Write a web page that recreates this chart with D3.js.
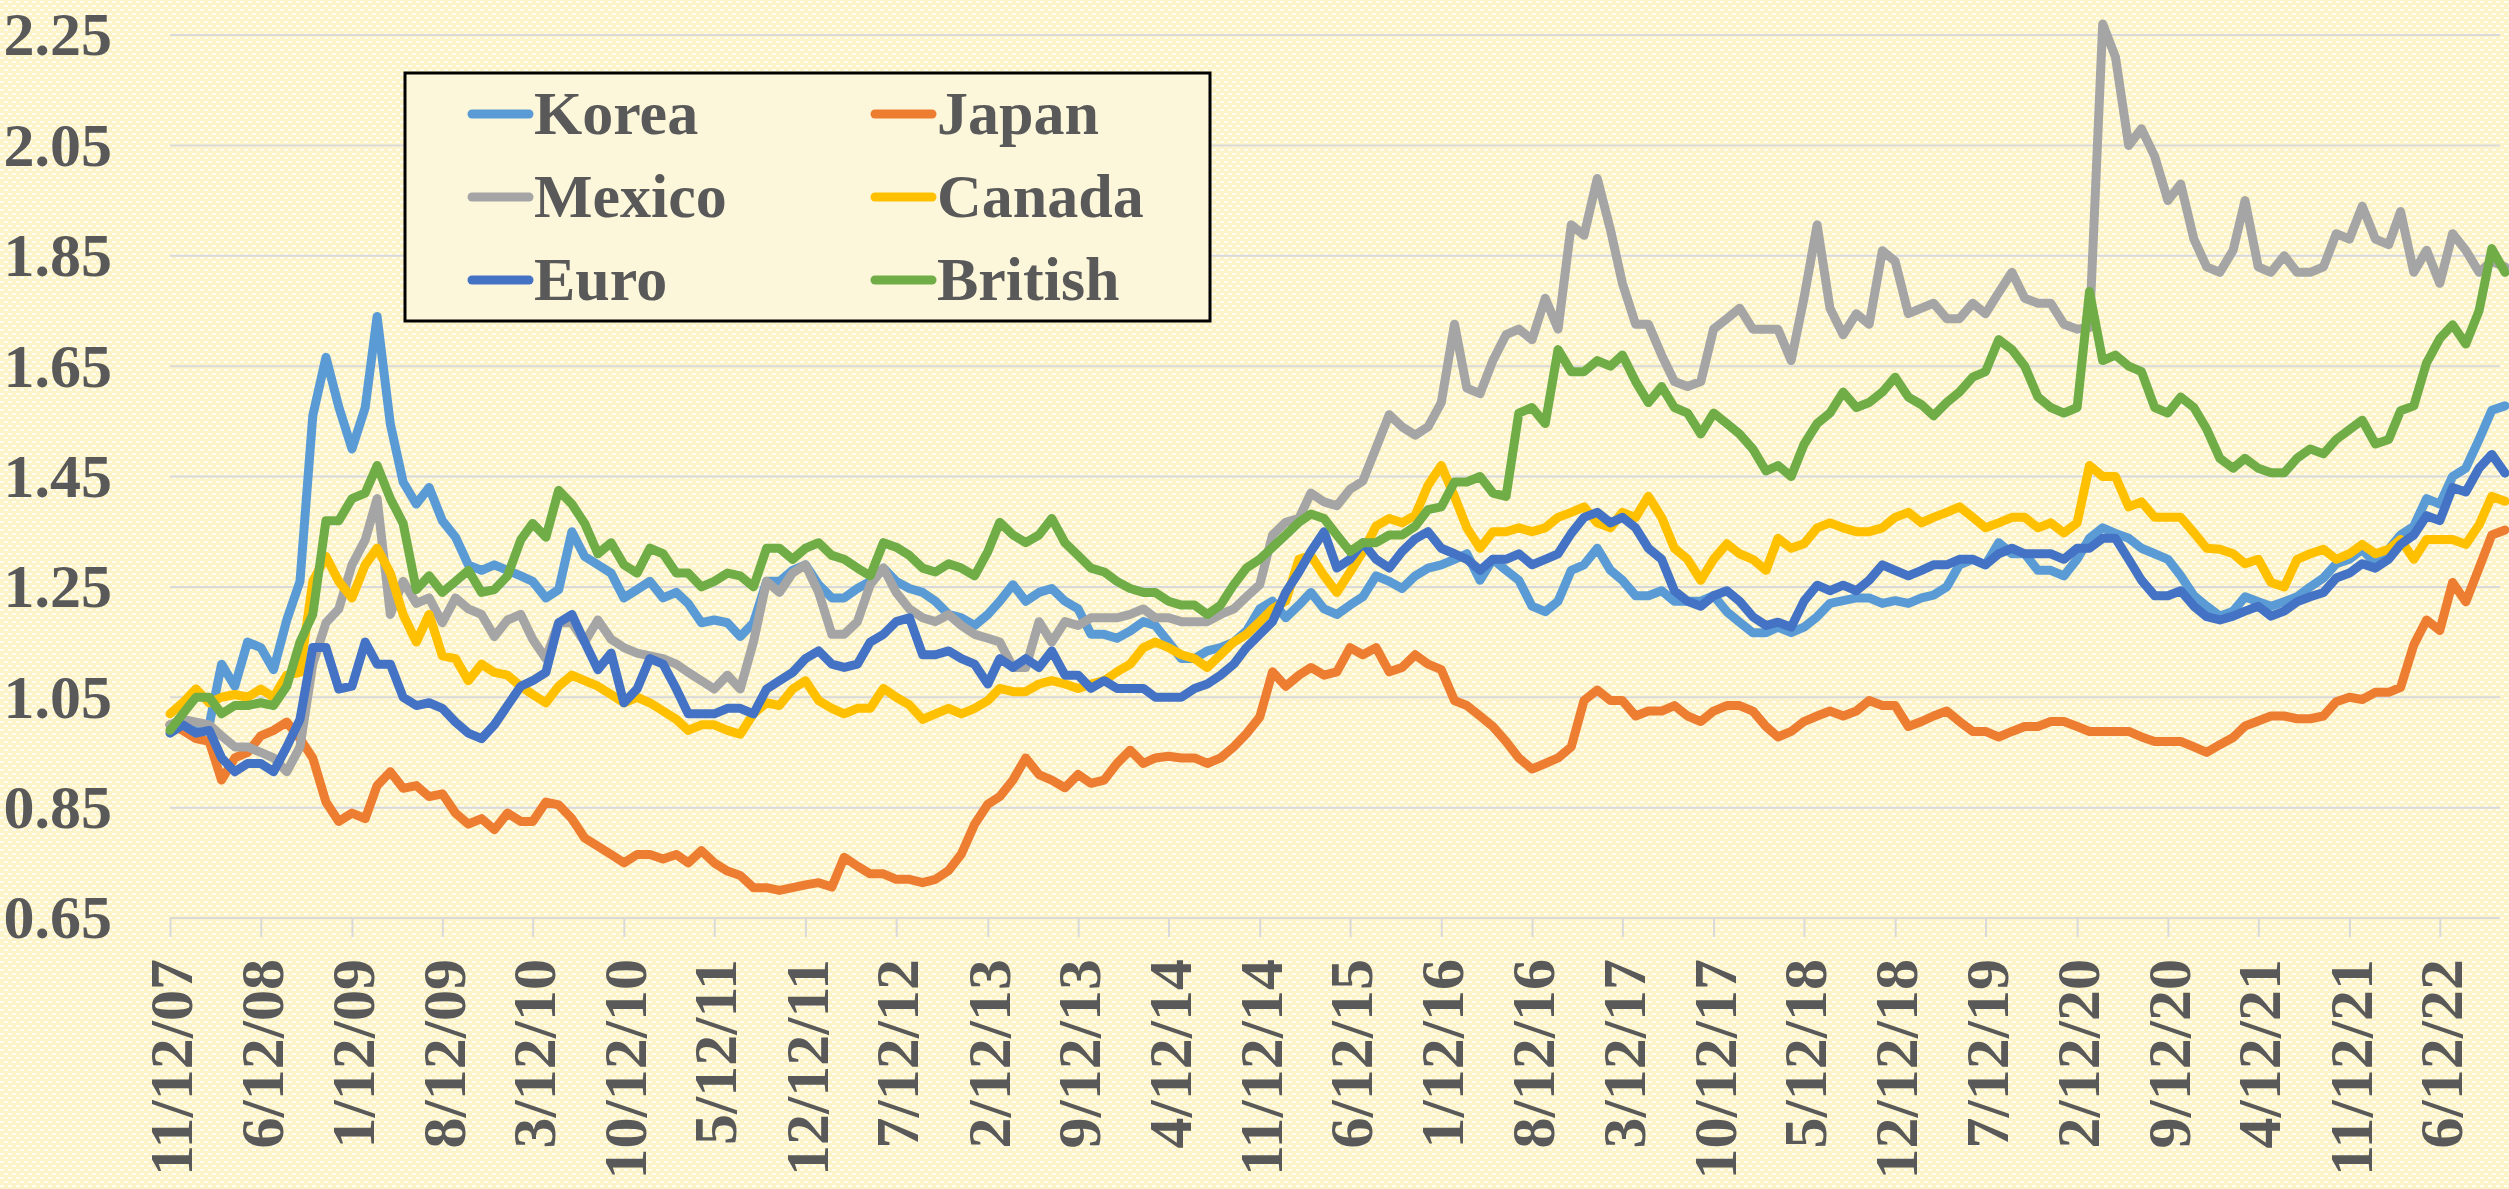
<!DOCTYPE html>
<html>
<head>
<meta charset="utf-8">
<script src="https://cdn.jsdelivr.net/npm/d3@7"></script>
<style>
  html, body { margin: 0; padding: 0; background: #fcf6d6; }
  svg { display: block; }
</style>
</head>
<body>
<div id="chart"></div>
<script>
// monthly readings, first point 11/12/07, one value per month up to 11/12/22
const startDate = new Date(2007, 10, 12);
const seriesNames = ["Korea", "Japan", "Mexico", "Canada", "Euro", "British"];
const seriesColors = ["#5b9bd5", "#ed7d31", "#a5a5a5", "#ffc000", "#4472c4", "#70ad47"];
const yTicks = [0.65, 0.85, 1.05, 1.25, 1.45, 1.65, 1.85, 2.05, 2.25];

const korea = [
  1.00, 1.005, 1.00, 1.00, 1.11, 1.07, 1.15, 1.14, 1.10, 1.19,
  1.26, 1.56, 1.666, 1.576, 1.50, 1.575, 1.74, 1.545, 1.44, 1.40,
  1.43, 1.37, 1.34, 1.29, 1.28, 1.29, 1.28, 1.27, 1.26, 1.23,
  1.245, 1.35, 1.305, 1.29, 1.275, 1.23, 1.245, 1.26, 1.23, 1.24,
  1.22, 1.185, 1.19, 1.185, 1.16, 1.185, 1.26, 1.26, 1.28, 1.29,
  1.254, 1.23, 1.23, 1.247, 1.26, 1.284, 1.26, 1.247, 1.24, 1.224,
  1.20, 1.194, 1.18, 1.20, 1.224, 1.254, 1.224, 1.24, 1.247, 1.224,
  1.21, 1.164, 1.164, 1.157, 1.17, 1.187, 1.18, 1.15, 1.12, 1.12,
  1.134, 1.14, 1.15, 1.17, 1.21, 1.224, 1.194, 1.217, 1.24, 1.21,
  1.20, 1.217, 1.232, 1.27, 1.26, 1.247, 1.27, 1.284, 1.29, 1.30,
  1.31, 1.262, 1.30, 1.28, 1.262, 1.215, 1.205, 1.224, 1.28, 1.29,
  1.32, 1.28, 1.262, 1.234, 1.234, 1.243, 1.224, 1.224, 1.224, 1.234,
  1.205, 1.186, 1.167, 1.167, 1.177, 1.167, 1.177, 1.196, 1.22, 1.225,
  1.23, 1.23, 1.22, 1.225, 1.22, 1.23, 1.235, 1.25, 1.29, 1.30,
  1.29, 1.33, 1.31, 1.31, 1.28, 1.28, 1.27, 1.30, 1.338, 1.357,
  1.347, 1.338, 1.32, 1.31, 1.30, 1.27, 1.234, 1.215, 1.197, 1.206,
  1.232, 1.223, 1.215, 1.223, 1.232, 1.25, 1.266, 1.292, 1.30, 1.318,
  1.292, 1.318, 1.344, 1.36, 1.41, 1.40, 1.45, 1.465, 1.517, 1.57, 1.578
];
const japan = [
  1.00, 0.99, 0.975, 0.97, 0.90, 0.94, 0.95, 0.98, 0.99, 1.005,
  0.975, 0.94, 0.86, 0.825, 0.84, 0.83, 0.89, 0.915, 0.885, 0.89,
  0.87, 0.875, 0.84, 0.82, 0.83, 0.81, 0.84, 0.825, 0.825, 0.86,
  0.855, 0.83, 0.795, 0.78, 0.765, 0.75, 0.765, 0.765, 0.757, 0.765,
  0.75, 0.772, 0.75, 0.735, 0.727, 0.705, 0.705, 0.70, 0.705, 0.71,
  0.714, 0.706, 0.76, 0.744, 0.73, 0.73, 0.72, 0.72, 0.714, 0.72,
  0.736, 0.766, 0.82, 0.856, 0.87, 0.90, 0.94, 0.91, 0.90, 0.886,
  0.91, 0.894, 0.90, 0.93, 0.954, 0.93, 0.94, 0.943, 0.94, 0.94,
  0.93, 0.94, 0.96, 0.984, 1.014, 1.096, 1.07, 1.09, 1.104, 1.09,
  1.096, 1.14, 1.127, 1.14, 1.096, 1.104, 1.127, 1.11, 1.10, 1.044,
  1.035, 1.016, 0.997, 0.97, 0.94, 0.92, 0.93, 0.94, 0.96, 1.044,
  1.063, 1.044, 1.044, 1.016, 1.025, 1.025, 1.035, 1.016, 1.006, 1.025,
  1.035, 1.035, 1.025, 0.997, 0.978, 0.988, 1.006, 1.016, 1.025, 1.016,
  1.025, 1.044, 1.035, 1.035, 0.997, 1.006, 1.016, 1.025, 1.006, 0.988,
  0.988, 0.978, 0.988, 0.997, 0.997, 1.006, 1.006, 0.997, 0.988, 0.988,
  0.988, 0.988, 0.978, 0.97, 0.97, 0.97, 0.96, 0.95, 0.964, 0.977,
  0.998, 1.007, 1.016, 1.016, 1.011, 1.011, 1.016, 1.042, 1.05, 1.046,
  1.059, 1.059, 1.068, 1.145, 1.19, 1.171, 1.258, 1.223, 1.284, 1.344, 1.353
];
const mexico = [
  1.00, 1.01, 1.005, 1.00, 0.98, 0.96, 0.96, 0.95, 0.94, 0.915,
  0.96, 1.11, 1.185, 1.21, 1.29, 1.335, 1.41, 1.20, 1.26, 1.22,
  1.23, 1.185, 1.23, 1.21, 1.20, 1.16, 1.19, 1.20, 1.155, 1.12,
  1.185, 1.185, 1.15, 1.19, 1.155, 1.14, 1.13, 1.125, 1.12, 1.11,
  1.095, 1.08, 1.065, 1.09, 1.065, 1.15, 1.26, 1.24, 1.275, 1.29,
  1.24, 1.164, 1.164, 1.187, 1.254, 1.284, 1.24, 1.21, 1.194, 1.187,
  1.20, 1.18, 1.164, 1.157, 1.15, 1.104, 1.104, 1.187, 1.15, 1.187,
  1.18, 1.194, 1.194, 1.194, 1.20, 1.21, 1.194, 1.194, 1.187, 1.187,
  1.187, 1.20, 1.21, 1.232, 1.254, 1.344, 1.367, 1.374, 1.42, 1.404,
  1.397, 1.427, 1.442, 1.502, 1.562, 1.54, 1.525, 1.54, 1.584, 1.726,
  1.61, 1.60, 1.66, 1.707, 1.717, 1.698, 1.773, 1.717, 1.906, 1.887,
  1.99, 1.897, 1.80, 1.726, 1.726, 1.67, 1.622, 1.613, 1.622, 1.717,
  1.736, 1.755, 1.717, 1.717, 1.717, 1.66, 1.773, 1.906, 1.755, 1.707,
  1.745, 1.726, 1.859, 1.84, 1.745, 1.755, 1.764, 1.736, 1.736, 1.764,
  1.745, 1.783, 1.82, 1.773, 1.764, 1.764, 1.726, 1.717, 1.72, 2.27,
  2.21, 2.05, 2.08, 2.03, 1.95, 1.98, 1.88, 1.83, 1.82, 1.86,
  1.95, 1.83, 1.82, 1.85, 1.82, 1.82, 1.83, 1.89, 1.88, 1.94,
  1.88, 1.87, 1.93, 1.82, 1.86, 1.80, 1.89, 1.86, 1.82, 1.84, 1.83
];
const canada = [
  1.02, 1.04, 1.065, 1.04, 1.05, 1.055, 1.05, 1.065, 1.05, 1.09,
  1.095, 1.26, 1.305, 1.26, 1.23, 1.29, 1.32, 1.275, 1.20, 1.15,
  1.20, 1.125, 1.12, 1.08, 1.11, 1.095, 1.09, 1.07, 1.055, 1.04,
  1.07, 1.09, 1.08, 1.07, 1.055, 1.04, 1.05, 1.04, 1.025, 1.01,
  0.99, 1.00, 1.00, 0.99, 0.983, 1.02, 1.04, 1.035, 1.065, 1.08,
  1.044, 1.03, 1.02, 1.03, 1.03, 1.066, 1.05, 1.036, 1.01, 1.02,
  1.03, 1.02, 1.03, 1.044, 1.066, 1.06, 1.06, 1.074, 1.08, 1.074,
  1.066, 1.074, 1.08, 1.096, 1.11, 1.14, 1.15, 1.14, 1.127, 1.12,
  1.104, 1.127, 1.15, 1.164, 1.187, 1.21, 1.224, 1.30, 1.307, 1.27,
  1.24, 1.277, 1.314, 1.36, 1.374, 1.366, 1.38, 1.434, 1.47, 1.414,
  1.357, 1.32, 1.35, 1.35, 1.357, 1.35, 1.357, 1.376, 1.385, 1.395,
  1.366, 1.357, 1.385, 1.376, 1.414, 1.376, 1.32, 1.30, 1.262, 1.30,
  1.328, 1.31, 1.30, 1.28, 1.338, 1.32, 1.328, 1.357, 1.366, 1.357,
  1.35, 1.35, 1.357, 1.376, 1.385, 1.366, 1.376, 1.385, 1.395, 1.376,
  1.357, 1.366, 1.376, 1.376, 1.357, 1.366, 1.348, 1.366, 1.47, 1.45,
  1.45, 1.395, 1.404, 1.376, 1.376, 1.376, 1.348, 1.32, 1.318, 1.31,
  1.292, 1.30, 1.258, 1.25, 1.30, 1.31, 1.318, 1.30, 1.31, 1.327,
  1.31, 1.318, 1.336, 1.30, 1.336, 1.336, 1.336, 1.327, 1.362, 1.414, 1.405
];
const euro = [
  0.985, 1.00, 0.985, 0.99, 0.94, 0.915, 0.93, 0.93, 0.915, 0.96,
  1.01, 1.14, 1.14, 1.065, 1.07, 1.15, 1.11, 1.11, 1.05, 1.035,
  1.04, 1.03, 1.005, 0.985, 0.975, 1.00, 1.035, 1.07, 1.08, 1.095,
  1.185, 1.20, 1.15, 1.10, 1.13, 1.04, 1.065, 1.12, 1.11, 1.065,
  1.02, 1.02, 1.02, 1.03, 1.03, 1.02, 1.065, 1.08, 1.095, 1.12,
  1.134, 1.11, 1.104, 1.11, 1.15, 1.164, 1.187, 1.194, 1.127, 1.127,
  1.134, 1.12, 1.11, 1.074, 1.12, 1.104, 1.12, 1.104, 1.134, 1.09,
  1.09, 1.066, 1.08, 1.066, 1.066, 1.066, 1.05, 1.05, 1.05, 1.066,
  1.074, 1.09, 1.11, 1.14, 1.164, 1.187, 1.24, 1.277, 1.314, 1.35,
  1.284, 1.30, 1.33, 1.30, 1.284, 1.314, 1.337, 1.35, 1.32, 1.31,
  1.30, 1.28, 1.30, 1.30, 1.31, 1.29, 1.30, 1.31, 1.347, 1.376,
  1.385, 1.366, 1.376, 1.357, 1.32, 1.30, 1.243, 1.224, 1.215, 1.234,
  1.243, 1.224, 1.196, 1.18, 1.186, 1.177, 1.224, 1.253, 1.243, 1.253,
  1.243, 1.262, 1.29, 1.28, 1.27, 1.28, 1.29, 1.29, 1.30, 1.30,
  1.29, 1.31, 1.32, 1.31, 1.31, 1.31, 1.30, 1.32, 1.32, 1.338,
  1.338, 1.30, 1.262, 1.234, 1.234, 1.243, 1.215, 1.196, 1.19, 1.197,
  1.206, 1.215, 1.197, 1.206, 1.223, 1.232, 1.24, 1.266, 1.275, 1.292,
  1.284, 1.30, 1.327, 1.344, 1.379, 1.37, 1.43, 1.422, 1.465, 1.49, 1.456
];
const british = [
  0.99, 1.02, 1.05, 1.05, 1.02, 1.035, 1.035, 1.04, 1.035, 1.07,
  1.15, 1.20, 1.37, 1.37, 1.41, 1.42, 1.47, 1.41, 1.365, 1.245,
  1.27, 1.24, 1.26, 1.28, 1.24, 1.245, 1.27, 1.335, 1.365, 1.34,
  1.425, 1.40, 1.365, 1.31, 1.33, 1.29, 1.275, 1.32, 1.31, 1.275,
  1.275, 1.25, 1.26, 1.275, 1.27, 1.25, 1.32, 1.32, 1.30, 1.32,
  1.33, 1.307, 1.30, 1.284, 1.27, 1.33, 1.322, 1.307, 1.284, 1.277,
  1.292, 1.284, 1.27, 1.314, 1.367, 1.344, 1.33, 1.344, 1.374, 1.33,
  1.307, 1.284, 1.277, 1.26, 1.247, 1.24, 1.24, 1.224, 1.217, 1.217,
  1.20, 1.217, 1.254, 1.284, 1.30, 1.322, 1.344, 1.367, 1.382, 1.374,
  1.344, 1.314, 1.33, 1.33, 1.344, 1.344, 1.36, 1.39, 1.395, 1.44,
  1.44, 1.45, 1.42, 1.414, 1.565, 1.575, 1.546, 1.68, 1.64, 1.64,
  1.66, 1.65, 1.67, 1.622, 1.584, 1.613, 1.575, 1.565, 1.527, 1.565,
  1.546, 1.527, 1.50, 1.46, 1.47, 1.45, 1.508, 1.546, 1.565, 1.603,
  1.575, 1.584, 1.603, 1.63, 1.594, 1.58, 1.56, 1.584, 1.603, 1.63,
  1.64, 1.698, 1.68, 1.65, 1.594, 1.575, 1.565, 1.575, 1.785, 1.66,
  1.67, 1.65, 1.64, 1.575, 1.565, 1.594, 1.575, 1.536, 1.483, 1.465,
  1.483, 1.465, 1.457, 1.457, 1.483, 1.50, 1.491, 1.517, 1.535, 1.552,
  1.509, 1.517, 1.569, 1.578, 1.656, 1.70, 1.725, 1.69, 1.75, 1.863, 1.82
];

const seriesValues = [korea, japan, mexico, canada, euro, british];

function LineChart({
    target,
    width = 2509,
    height = 1189,
    plotLeft = 170,   // x of the first date
    plotRight = 2505, // x of the last date
    plotTop = 35,     // y of 2.25
    plotBottom = 918, // y of 0.65
    font = "'Liberation Serif', 'Times New Roman', serif",
} = {}) {
    const svg = d3.select(target)
        .append("svg")
        .attr("width", width)
        .attr("height", height);

    // dotted yellow background
    const pat = svg.append("defs").append("pattern")
        .attr("id", "dots")
        .attr("width", 8).attr("height", 8)
        .attr("patternUnits", "userSpaceOnUse");
    pat.append("rect").attr("width", 8).attr("height", 8).attr("fill", "#fcf4c8");
    pat.append("rect").attr("x", 0).attr("y", 1).attr("width", 4).attr("height", 2).attr("fill", "#fffdf4");
    pat.append("rect").attr("x", 4).attr("y", 5).attr("width", 4).attr("height", 2).attr("fill", "#fffdf4");
    svg.append("rect").attr("width", width).attr("height", height).attr("fill", "url(#dots)");

    const dates = korea.map((d, i) => d3.timeMonth.offset(startDate, i));
    const x = d3.scaleTime()
        .domain([dates[0], dates[dates.length - 1]])
        .range([plotLeft, plotRight]);
    const y = d3.scaleLinear().domain([0.65, 2.25]).range([plotBottom, plotTop]);

    // gridlines
    svg.append("g")
        .selectAll("line")
        .data(yTicks.slice(1))
        .enter().append("line")
        .attr("x1", plotLeft).attr("x2", 2500)
        .attr("y1", d => y(d)).attr("y2", d => y(d))
        .attr("stroke", "#d9d9d9")
        .attr("stroke-width", 2);

    // y labels
    svg.append("g")
        .selectAll("text")
        .data(yTicks)
        .enter().append("text")
        .attr("x", 112)
        .attr("y", d => y(d))
        .attr("dy", "0.33em")
        .attr("text-anchor", "end")
        .attr("font-family", font)
        .attr("font-weight", "bold")
        .attr("font-size", 62)
        .attr("fill", "#595959")
        .text(d => d3.format(".2f")(d));

    // x axis
    const tickDates = d3.range(0, 26).map(i => d3.timeMonth.offset(startDate, 7 * i));
    const xAxis = svg.append("g")
        .attr("transform", `translate(0,${plotBottom})`)
        .call(d3.axisBottom(x)
            .tickValues(tickDates)
            .tickSize(19)
            .tickSizeOuter(0)
            .tickFormat(d3.timeFormat("%-m/%d/%y")));
    xAxis.select(".domain").attr("stroke", "#d9d9d9").attr("stroke-width", 2)
        .attr("d", `M${plotLeft},0H2500`);
    xAxis.selectAll(".tick line").attr("stroke", "#d9d9d9").attr("stroke-width", 2);
    xAxis.selectAll(".tick text")
        .attr("transform", "rotate(-90)")
        .attr("x", -41)
        .attr("y", 0)
        .attr("dy", "0.35em")
        .attr("text-anchor", "end")
        .attr("font-family", font)
        .attr("font-weight", "bold")
        .attr("font-size", 62)
        .attr("fill", "#595959");

    // lines
    const line = d3.line()
        .x((d, i) => x(dates[i]))
        .y(d => y(d));

    svg.append("g")
        .selectAll("path")
        .data(seriesValues)
        .enter().append("path")
        .attr("d", d => line(d))
        .attr("fill", "none")
        .attr("stroke", (d, i) => seriesColors[i])
        .attr("stroke-width", 9)
        .attr("stroke-linejoin", "round")
        .attr("stroke-linecap", "round");

    // legend
    const legend = svg.append("g");
    legend.append("rect")
        .attr("x", 405).attr("y", 73)
        .attr("width", 805).attr("height", 248)
        .attr("fill", "#fcf6da")
        .attr("stroke", "#000")
        .attr("stroke-width", 3);

    const item = legend.selectAll(".item")
        .data(seriesNames)
        .enter().append("g")
        .attr("class", "item")
        .attr("transform", (d, i) => `translate(${i % 2 ? 875 : 472},${114 + Math.floor(i / 2) * 83})`);
    item.append("line")
        .attr("x1", 0).attr("x2", 57)
        .attr("stroke", (d, i) => seriesColors[i])
        .attr("stroke-width", 9)
        .attr("stroke-linecap", "round");
    item.append("text")
        .attr("x", 62)
        .attr("dy", "0.33em")
        .attr("font-family", font)
        .attr("font-weight", "bold")
        .attr("font-size", 62)
        .attr("fill", "#595959")
        .text(d => d);
}

LineChart({
    target: "#chart",
})
</script>
</body>
</html>
